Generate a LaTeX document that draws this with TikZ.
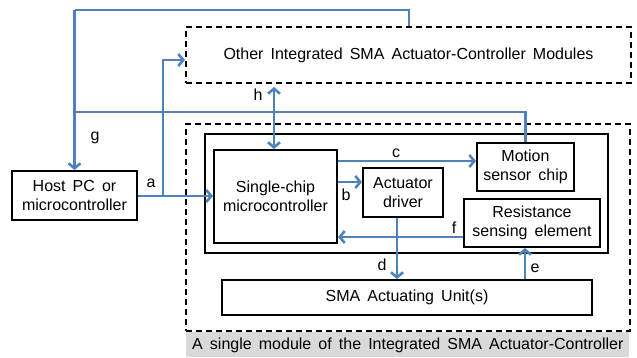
\documentclass[tikz,border=0pt]{standalone}
\usepackage{fontspec}
\setmainfont{Liberation Sans}[WordSpace=1.6]
\usetikzlibrary{arrows.meta,calc}
\definecolor{flowblue}{RGB}{79,129,189}
\definecolor{labelgray}{RGB}{217,217,217}
\begin{document}
\begin{tikzpicture}[x=1pt,y=-1pt,
  every node/.style={font=\fontsize{16}{18.5}\selectfont, inner sep=0pt},
  blk/.style={draw=black, line width=2pt, align=center},
  dbox/.style={draw=black, line width=2pt, dash pattern=on 6pt off 4pt},
  flow/.style={draw=flowblue, line width=2.8pt},
  tip/.style={-{Straight Barb[length=5pt,width=12pt,line width=2.6pt]}},
  lbl/.style={font=\fontsize{16}{18}\selectfont}
]
\useasboundingbox (0,0) rectangle (637,357);
% boxes
\node[dbox, minimum width=445pt, minimum height=56pt] (others) at (408.5,55) {Other Integrated SMA Actuator-Controller Modules};
\node[fill=labelgray, minimum width=443pt, minimum height=25pt] (caption) at (407.5,344.5) {};
\node[anchor=west] (captxt) at (192,345) {A single module of the Integrated SMA Actuator-Controller};
\node[dbox, minimum width=444pt, minimum height=207pt] (module) at (408,227.5) {};
\node[blk, minimum width=403pt, minimum height=119pt] (inner) at (406.5,193.5) {};
\node[blk, minimum width=125pt, minimum height=49pt] (host) at (74.5,195.5) {Host PC or\\microcontroller};
\node[blk, minimum width=123pt, minimum height=93pt] (mcu) at (275.5,196.5) {Single-chip\\microcontroller};
\node[blk, minimum width=80pt, minimum height=49pt] (driver) at (403,192.5) {Actuator\\driver};
\node[blk, minimum width=97pt, minimum height=48pt] (motion) at (525.5,167) {Motion\\sensor chip};
\node[blk, minimum width=136pt, minimum height=48pt] (resist) at (532,223) {Resistance\\sensing element};
\node[blk, minimum width=370pt, minimum height=35pt] (sma) at (407,297.5) {SMA Actuating Unit(s)};
% helper coordinates
\coordinate (gR) at (409,10);
\coordinate (gL) at (74.5,10);
\coordinate (gJ) at (74.5,112);
\coordinate (aB) at (163,196);
\coordinate (aU) at (163,60);
\coordinate (hX) at (274,0);
\coordinate (cY) at (0,161);
\coordinate (bY) at (0,182);
\coordinate (fY) at (0,237);
\coordinate (dX) at (397,0);
\coordinate (eX) at (525,0);
% connectors
\draw[flow] (gR |- others.north) -- (gR) -- (gL);
\draw[flow,tip] (gL) -- (host.north);
\draw[flow] (motion.north) |- (gJ);
\draw[flow,tip] (host.east |- aB) -- (mcu.west |- aB);
\draw[flow,tip] (aB) -- (aU) -- (others.west |- aU);
\draw[flow,{Straight Barb[length=5pt,width=12pt,line width=2.6pt]}-{Straight Barb[length=5pt,width=12pt,line width=2.6pt]}] (hX |- others.south) ++(0,3) -- (hX |- mcu.north);
\draw[flow,tip] (mcu.east |- cY) -- (motion.west |- cY);
\draw[flow,tip] (mcu.east |- bY) -- (driver.west |- bY);
\draw[flow,tip] (resist.west |- fY) -- (mcu.east |- fY);
\draw[flow,tip] (dX |- driver.south) -- (dX |- sma.north);
\draw[flow,tip] (eX |- sma.north) -- (eX |- resist.south);
% labels
\node[lbl] (lg) at (95,138) {g};
\node[lbl] (la) at (151,183) {a};
\node[lbl] (lh) at (258,95) {h};
\node[lbl] (lc) at (396,153) {c};
\node[lbl] (lb) at (346,195) {b};
\node[lbl] (lf) at (454,228) {f};
\node[lbl] (ld) at (382,265) {d};
\node[lbl] (le) at (535,268) {e};
\end{tikzpicture}
\end{document}
